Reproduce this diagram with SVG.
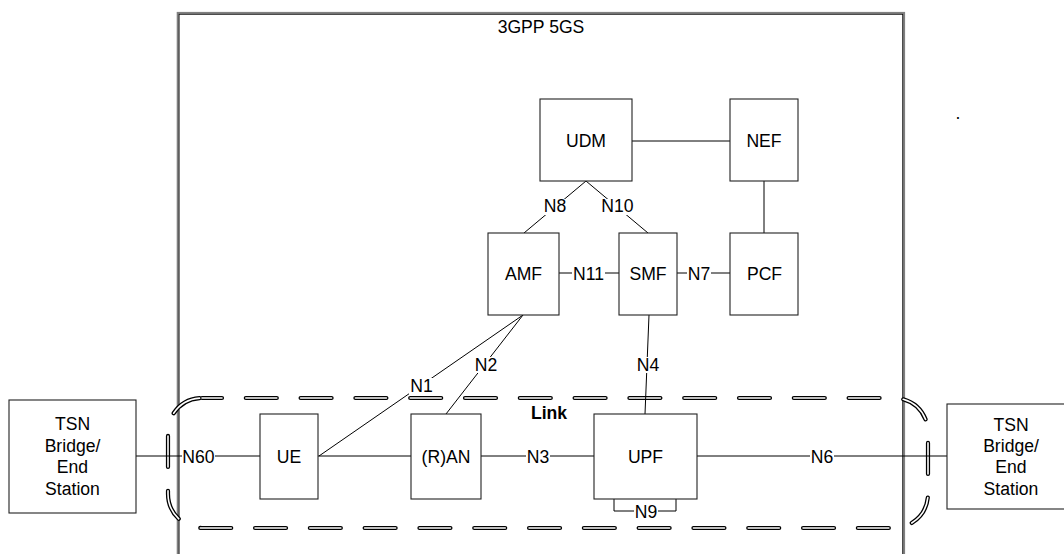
<svg xmlns="http://www.w3.org/2000/svg" width="1064" height="554" viewBox="0 0 1064 554">
<style>
text{font-family:"Liberation Sans",Arial,sans-serif;font-size:17.6px;fill:#000;text-anchor:middle}
.node rect{fill:#fff;stroke:#222;stroke-width:1.1}
.conn line,.conn polyline{stroke:#000;stroke-width:1;fill:none}
.bg{fill:#fff}
.dashO{fill:none;stroke:#000;stroke-width:4.2;stroke-dasharray:31 23.8;stroke-dashoffset:11;stroke-linecap:round}
.dashI{fill:none;stroke:#fff;stroke-width:1.6;stroke-dasharray:31 23.8;stroke-dashoffset:11;stroke-linecap:round}
</style>
<rect width="1064" height="554" fill="#fff"/>
<!-- 3GPP 5GS frame -->
<g id="frame">
<rect x="177.6" y="12.8" width="726.6" height="600" fill="none" stroke="#808080" stroke-width="1.8"/>
<rect x="179" y="14.2" width="723.8" height="600" fill="none" stroke="#000" stroke-width="1"/>
<text x="541" y="33">3GPP 5GS</text>
</g>
<!-- Link dashed area -->
<g id="link">
<rect class="dashO" x="168" y="398" width="760" height="130" rx="34" ry="34"/>
<rect class="dashI" x="168" y="398" width="760" height="130" rx="34" ry="34"/>
<text x="549" y="419" font-weight="bold">Link</text>
</g>
<!-- connectors -->
<g id="connectors" class="conn">
<line x1="632" y1="141" x2="730" y2="141"/>
<line x1="764" y1="181" x2="764" y2="233"/>
<line x1="586" y1="181" x2="524" y2="233"/>
<line x1="586" y1="181" x2="648" y2="233"/>
<line x1="559" y1="273" x2="619" y2="273"/>
<line x1="677" y1="273" x2="730" y2="273"/>
<line x1="649" y1="315" x2="645" y2="414"/>
<line x1="523" y1="315" x2="319" y2="456"/>
<line x1="523" y1="315" x2="446" y2="414"/>
<line x1="136" y1="456" x2="260" y2="456"/>
<line x1="318" y1="456" x2="411" y2="456"/>
<line x1="481" y1="456" x2="594" y2="456"/>
<line x1="697" y1="456" x2="947" y2="456"/>
<polyline points="614,499 614,511 676,511 676,499"/>
<g id="labels">
<rect class="bg" x="543" y="199" width="24" height="16"/><text x="555" y="212">N8</text>
<rect class="bg" x="601" y="199" width="33" height="16"/><text x="617.5" y="212">N10</text>
<rect class="bg" x="572" y="266" width="33" height="16"/><text x="588.5" y="280">N11</text>
<rect class="bg" x="687" y="266" width="24" height="16"/><text x="699" y="280">N7</text>
<rect class="bg" x="636" y="357" width="24" height="16"/><text x="648" y="371">N4</text>
<rect class="bg" x="474" y="357" width="24" height="16"/><text x="486" y="371">N2</text>
<rect class="bg" x="409" y="378" width="25" height="16"/><text x="421.5" y="392">N1</text>
<rect class="bg" x="526" y="449" width="24" height="16"/><text x="538" y="463">N3</text>
<rect class="bg" x="634" y="504" width="24" height="16"/><text x="646" y="518">N9</text>
<rect class="bg" x="182" y="449" width="33" height="16"/><text x="198.5" y="463">N60</text>
<rect class="bg" x="810" y="449" width="24" height="16"/><text x="822" y="463">N6</text>
</g>
</g>
<!-- nodes -->
<g id="udm" class="node"><rect x="540" y="99" width="92" height="82"/><text x="586" y="147">UDM</text></g>
<g id="nef" class="node"><rect x="730" y="99" width="68" height="82"/><text x="764" y="147">NEF</text></g>
<g id="amf" class="node"><rect x="488" y="233" width="71" height="82"/><text x="523.5" y="280">AMF</text></g>
<g id="smf" class="node"><rect x="619" y="233" width="58" height="82"/><text x="648" y="280">SMF</text></g>
<g id="pcf" class="node"><rect x="730" y="233" width="68" height="82"/><text x="764.5" y="280">PCF</text></g>
<g id="ue" class="node"><rect x="260" y="414" width="58" height="85"/><text x="289" y="463">UE</text></g>
<g id="ran" class="node"><rect x="411" y="414" width="70" height="85"/><text x="446" y="463">(R)AN</text></g>
<g id="upf" class="node"><rect x="594" y="414" width="103" height="85"/><text x="645.5" y="463">UPF</text></g>
<g id="tsn-left" class="node"><rect x="9" y="400" width="127" height="113"/>
<text x="72.5" y="430">TSN</text><text x="72.5" y="452">Bridge/</text><text x="72.5" y="473">End</text><text x="72.5" y="495">Station</text></g>
<g id="tsn-right" class="node"><rect x="947" y="404" width="128" height="105"/>
<text x="1011" y="431">TSN</text><text x="1011" y="452">Bridge/</text><text x="1011" y="473">End</text><text x="1011" y="495">Station</text></g>
<text x="958" y="119">.</text>
</svg>
